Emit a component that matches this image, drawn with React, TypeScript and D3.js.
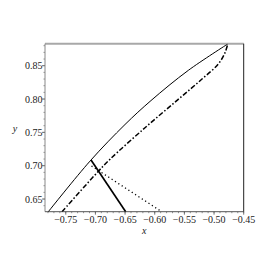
import * as d3 from 'd3';

// solid curve
const solidX = [-0.7794, -0.7091, -0.6501, -0.6063, -0.5434, -0.477];
const solidY = [0.631, 0.7069, 0.7618, 0.7977, 0.843, 0.8825];

// dash-dot curve
const dashX = [-0.7563, -0.6951, -0.6754, -0.6164, -0.5613, -0.5208, -0.4928, -0.4815, -0.477];
const dashY = [0.631, 0.6916, 0.7097, 0.7569, 0.7988, 0.8296, 0.8526, 0.8696, 0.8822];

// thick segment and dotted segment
const thickX = [-0.7074, -0.649];
const thickY = [0.7086, 0.631];
const dotX = [-0.7066, -0.5882];
const dotY = [0.6996, 0.631];

const xTicks = [-0.75, -0.7, -0.65, -0.6, -0.55, -0.5, -0.45];
const yTicks = [0.65, 0.7, 0.75, 0.8, 0.85];

const W = 275;
const H = 275;
const left = 45;
const right = 243.7;
const top = 43.7;
const bottom = 211.7;
const serif = "'Liberation Serif', 'DejaVu Serif', 'Times New Roman', serif";

export default function App() {
  const x = d3.scaleLinear().domain([-0.785, -0.45]).range([left, right]);
  const y = d3.scaleLinear().domain([0.631, 0.883]).range([bottom, top]);

  const pts = (xs: number[], ys: number[]) => xs.map((v, i) => [v, ys[i]] as [number, number]);
  const curve = d3
    .line<[number, number]>()
    .x((d) => x(d[0]))
    .y((d) => y(d[1]))
    .curve(d3.curveCatmullRom.alpha(0.5));
  const straight = d3
    .line<[number, number]>()
    .x((d) => x(d[0]))
    .y((d) => y(d[1]));

  const xMinor = d3.range(-0.78, -0.449, 0.01);
  const yMinor = d3.range(0.64, 0.881, 0.01);

  return (
    <svg
      width={W}
      height={H}
      style={{ position: 'absolute', left: 0, top: 0, background: '#fff', fontFamily: serif }}
    >
      <defs>
        <clipPath id="plot">
          <rect x={left} y={top} width={right - left} height={bottom - top} />
        </clipPath>
      </defs>

      {/* minor ticks */}
      {xMinor.map((t, i) => (
        <line key={'xm' + i} x1={x(t)} x2={x(t)} y1={bottom} y2={bottom + 1.5} stroke="#777" strokeWidth={0.8} />
      ))}
      {yMinor.map((t, i) => (
        <line key={'ym' + i} x1={left - 1.5} x2={left} y1={y(t)} y2={y(t)} stroke="#777" strokeWidth={0.8} />
      ))}
      {xTicks.map((t) => (
        <g key={'x' + t}>
          <line x1={x(t)} x2={x(t)} y1={bottom} y2={bottom + 3} stroke="#555" strokeWidth={0.8} />
          <text x={x(t)} y={222.5} fontSize={10} textAnchor="middle" fill="#222" style={{ fontFamily: serif }}>
            {'\u2212' + Math.abs(t).toFixed(2)}
          </text>
        </g>
      ))}
      {yTicks.map((t) => (
        <g key={'y' + t}>
          <line x1={left - 3} x2={left} y1={y(t)} y2={y(t)} stroke="#555" strokeWidth={0.8} />
          <text x={42.5} y={y(t) + 3.5} fontSize={10} textAnchor="end" fill="#222" style={{ fontFamily: serif }}>
            {t.toFixed(2)}
          </text>
        </g>
      ))}

      {/* frame */}
      <line x1={left} x2={right} y1={top} y2={top} stroke="#a8a8a8" strokeWidth={2} />
      <line x1={left} x2={left} y1={top} y2={bottom} stroke="#888" strokeWidth={1} />
      <line x1={left} x2={right} y1={bottom} y2={bottom} stroke="#555" strokeWidth={1} />
      <line x1={right} x2={right} y1={top} y2={bottom} stroke="#222" strokeWidth={1} />

      <g clipPath="url(#plot)" fill="none">
        <path d={curve(pts(solidX, solidY)) ?? ''} stroke="#000" strokeWidth={1} />
        <path d={curve(pts(dashX, dashY)) ?? ''} stroke="#000" strokeWidth={1.5} strokeDasharray="5,2,1.5,2" />
        <path d={straight(pts(thickX, thickY)) ?? ''} stroke="#000" strokeWidth={1.7} />
        <path d={straight(pts(dotX, dotY)) ?? ''} stroke="#000" strokeWidth={1.3} strokeDasharray="1.2,2.8" />
      </g>

      <text x={(left + right) / 2} y={233.5} fontSize={10} fontStyle="italic" textAnchor="middle" fill="#222" style={{ fontFamily: serif }}>
        x
      </text>
      <text x={15} y={132} fontSize={10} fontStyle="italic" textAnchor="middle" fill="#222" style={{ fontFamily: serif }}>
        y
      </text>
    </svg>
  );
}
